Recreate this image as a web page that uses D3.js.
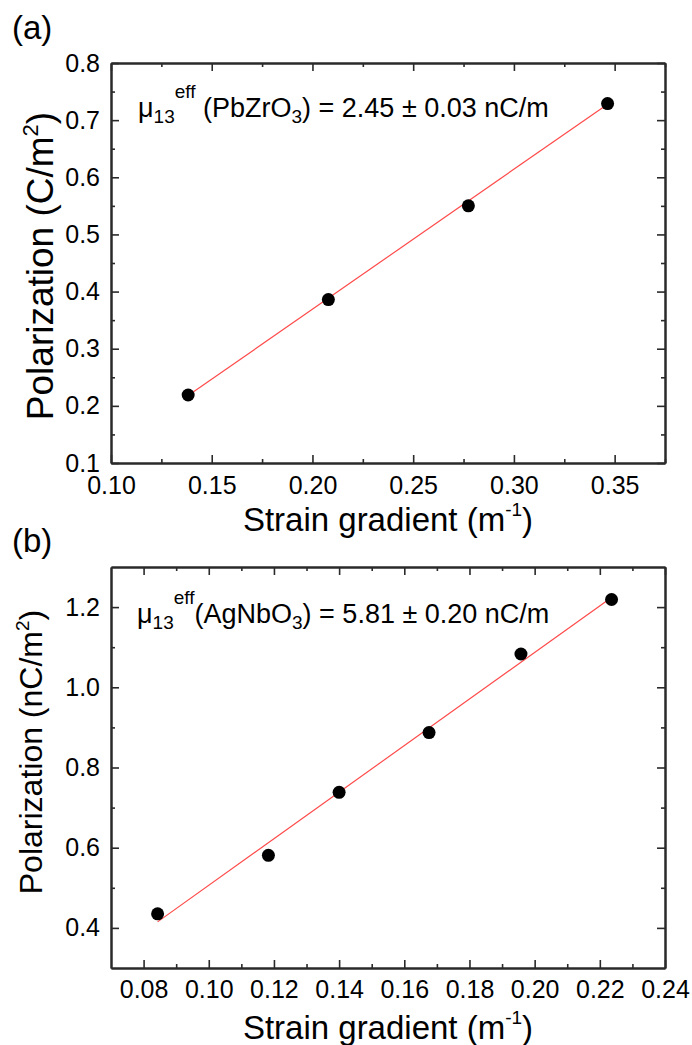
<!DOCTYPE html>
<html>
<head>
<meta charset="utf-8">
<script src="https://cdn.jsdelivr.net/npm/d3@7"></script>
<style>
  body { margin: 0; background: #fff; }
  svg { display: block; }
</style>
</head>
<body>
<div id="chart"></div>
<script>
// panel (a): PbZrO3
const strainA = [0.1383, 0.2079, 0.2774, 0.3465];
const polA = [0.219, 0.386, 0.550, 0.729];
const fitStrainA = [0.1383, 0.3465];
const fitPolA = [0.218, 0.728];
const xTicksA = [0.10, 0.15, 0.20, 0.25, 0.30, 0.35];
const xMinorA = [0.125, 0.175, 0.225, 0.275, 0.325, 0.375];
const yTicksA = [0.1, 0.2, 0.3, 0.4, 0.5, 0.6, 0.7, 0.8];
const yMinorA = [0.15, 0.25, 0.35, 0.45, 0.55, 0.65, 0.75];

// panel (b): AgNbO3
const strainB = [0.0843, 0.1183, 0.1400, 0.1676, 0.1958, 0.2236];
const polB = [0.435, 0.581, 0.738, 0.887, 1.083, 1.219];
const fitStrainB = [0.0843, 0.2236];
const fitPolB = [0.415, 1.224];
const xTicksB = [0.08, 0.10, 0.12, 0.14, 0.16, 0.18, 0.20, 0.22, 0.24];
const xMinorB = [0.09, 0.11, 0.13, 0.15, 0.17, 0.19, 0.21, 0.23];
const yTicksB = [0.4, 0.6, 0.8, 1.0, 1.2];
const yMinorB = [0.5, 0.7, 0.9, 1.1];

const width = 692;
const height = 1045;
const font = "'Liberation Sans', Arial, sans-serif";
const axisColor = "#2a2a2a";

const svg = d3.select("#chart")
    .append("svg")
    .attr("width", width)
    .attr("height", height)
    .attr("viewBox", [0, 0, width, height])
    .attr("font-family", font);

// text with sub/superscript pieces: [text, "n" | "sub" | "sup"]
function richText(sel, parts, base, small, shift) {
    let cur = 0;
    parts.forEach(([t, kind]) => {
        const target = kind === "sub" ? shift.sub : kind === "sup" ? shift.sup : 0;
        sel.append("tspan")
            .attr("dy", target - cur)
            .attr("font-size", kind === "n" ? base : small)
            .text(t);
        cur = target;
    });
}

function panel(o) {
    const x = d3.scaleLinear().domain(o.xDomain).range([o.left, o.right]);
    const y = d3.scaleLinear().domain(o.yDomain).range([o.bottom, o.top]);
    const g = svg.append("g");

    function axis(gen, tr, vals, size, fmt, pad) {
        const a = g.append("g")
            .attr("transform", tr)
            .call(gen.tickValues(vals)
                .tickSizeInner(-size)
                .tickSizeOuter(0)
                .tickPadding(pad || 0)
                .tickFormat(fmt || (() => "")));
        a.attr("font-family", font).attr("font-size", 25);
        a.select(".domain").attr("stroke", axisColor).attr("stroke-width", 2);
        a.selectAll(".tick line").attr("stroke", axisColor).attr("stroke-width", 1.6);
        a.selectAll(".tick text").attr("fill", "#000");
        return a;
    }

    const bt = `translate(0,${o.bottom})`, tp = `translate(0,${o.top})`;
    const lt = `translate(${o.left},0)`, rt = `translate(${o.right},0)`;

    axis(d3.axisBottom(x), bt, o.xMinor, 4);
    axis(d3.axisTop(x), tp, o.xMinor, 4);
    axis(d3.axisLeft(y), lt, o.yMinor, 4);
    axis(d3.axisRight(y), rt, o.yMinor, 4);

    axis(d3.axisBottom(x), bt, o.xTicks, 8, d3.format(".2f"), o.xPad);
    axis(d3.axisTop(x), tp, o.xTicks, 8);
    axis(d3.axisLeft(y), lt, o.yTicks, 8, d3.format(".1f"), 11);
    axis(d3.axisRight(y), rt, o.yTicks, 8);

    // linear fit
    g.append("path")
        .datum(o.fitX.map((v, i) => [v, o.fitY[i]]))
        .attr("fill", "none")
        .attr("stroke", "#ff4a4a")
        .attr("stroke-width", 1.2)
        .attr("d", d3.line().x(d => x(d[0])).y(d => y(d[1])));

    g.append("g")
        .selectAll("circle")
        .data(o.xs.map((v, i) => [v, o.ys[i]]))
        .join("circle")
        .attr("cx", d => x(d[0]))
        .attr("cy", d => y(d[1]))
        .attr("r", 6.5)
        .attr("fill", "#000");

    // annotation
    const note = g.append("text")
        .attr("x", o.noteX)
        .attr("y", o.noteY)
        .attr("fill", "#000");
    richText(note, o.note, 27, 19, { sub: 6, sup: -19 });

    // x title
    const xt = g.append("text")
        .attr("x", (o.left + o.right) / 2)
        .attr("y", o.xTitleY)
        .attr("text-anchor", "middle")
        .attr("fill", "#000");
    richText(xt, [["Strain gradient (m", "n"], ["-1", "sup"], [")", "n"]], 33, 19, { sub: 0, sup: -15 });

    // y title
    const yt = g.append("text")
        .attr("transform", `translate(${o.yTitleX},${o.yTitleY}) rotate(-90)`)
        .attr("text-anchor", "middle")
        .attr("fill", "#000");
    richText(yt, o.yTitle, o.yTitleSize, Math.round(o.yTitleSize * 0.6), { sub: 0, sup: -Math.round(o.yTitleSize * 0.4) });

    svg.append("text")
        .attr("x", 12)
        .attr("y", o.tagY)
        .attr("font-size", 33)
        .attr("fill", "#000")
        .text(o.tag);
}

panel({
    left: 111, right: 665, top: 63, bottom: 463,
    xDomain: [0.10, 0.375], yDomain: [0.1, 0.8],
    xTicks: xTicksA, xMinor: xMinorA, yTicks: yTicksA, yMinor: yMinorA,
    xPad: 13,
    xs: strainA, ys: polA, fitX: fitStrainA, fitY: fitPolA,
    note: [["μ", "n"], ["13", "sub"], ["eff", "sup"], [" (PbZrO", "n"], ["3", "sub"], [") = 2.45 ± 0.03 nC/m", "n"]],
    noteX: 138, noteY: 117,
    xTitleY: 531,
    yTitle: [["Polarization (C/m", "n"], ["2", "sup"], [")", "n"]],
    yTitleX: 53, yTitleY: 266, yTitleSize: 37,
    tag: "(a)", tagY: 39
});

panel({
    left: 111, right: 665, top: 567, bottom: 968,
    xDomain: [0.07, 0.24], yDomain: [0.3, 1.3],
    xTicks: xTicksB, xMinor: xMinorB, yTicks: yTicksB, yMinor: yMinorB,
    xPad: 12,
    xs: strainB, ys: polB, fitX: fitStrainB, fitY: fitPolB,
    note: [["μ", "n"], ["13", "sub"], ["eff", "sup"], ["(AgNbO", "n"], ["3", "sub"], [") = 5.81 ± 0.20 nC/m", "n"]],
    noteX: 137, noteY: 623,
    xTitleY: 1039,
    yTitle: [["Polarization (nC/m", "n"], ["2", "sup"], [")", "n"]],
    yTitleX: 42, yTitleY: 752, yTitleSize: 32,
    tag: "(b)", tagY: 552
});
</script>
</body>
</html>
